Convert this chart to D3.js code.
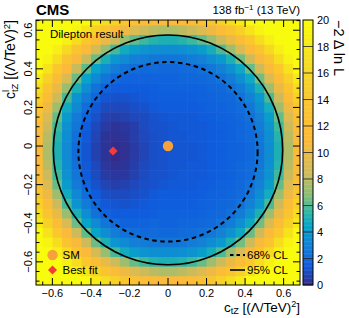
<!DOCTYPE html>
<html>
<head>
<meta charset="utf-8">
<script src="https://cdn.jsdelivr.net/npm/d3@7"></script>
<style>
body { margin: 0; background: #fff; }
text { font-family: "Liberation Sans", Arial, Helvetica, sans-serif; fill: #000; }
</style>
</head>
<body>
<svg id="chart" width="349" height="318"></svg>
<script>
// cell centres of the scan grid
const xCenters = [-0.675,-0.625,-0.575,-0.525,-0.475,-0.425,-0.375,-0.325,-0.275,-0.225,-0.175,-0.125,-0.075,-0.025,
                  0.025,0.075,0.125,0.175,0.225,0.275,0.325,0.375,0.425,0.475,0.525,0.575,0.625,0.675];
const yCenters = [0.65,0.6,0.55,0.5,0.45,0.4,0.35,0.3,0.25,0.2,0.15,0.1,0.05,0,
                  -0.05,-0.1,-0.15,-0.2,-0.25,-0.3,-0.35,-0.4,-0.45,-0.5,-0.55,-0.6,-0.65,-0.7];
const cellStep = 0.05;

// -2 delta ln L, rows from top (y = 0.65) to bottom (y = -0.7)
const nll = [
[25.6,24.6,23.5,22.2,21.0,19.9,18.3,16.9,15.3,13.9,12.8,12.0,11.4,11.2,11.2,11.4,12.0,12.8,13.9,15.3,16.9,18.3,19.9,21.0,22.2,23.5,24.6,25.6],
[24.6,23.4,22.0,20.6,19.1,17.4,15.3,13.4,11.7,10.3,9.1,8.4,8.0,7.7,7.7,8.0,8.4,9.1,10.3,11.7,13.4,15.3,17.4,19.1,20.6,22.0,23.4,24.6],
[23.5,22.0,20.5,18.7,16.7,14.2,12.0,10.0,8.4,7.3,6.3,5.7,5.3,5.1,5.1,5.3,5.7,6.3,7.3,8.4,10.0,12.0,14.2,16.7,18.7,20.5,22.0,23.5],
[22.2,20.6,18.7,16.4,13.6,11.2,8.8,7.2,5.8,4.8,4.2,3.8,3.6,3.5,3.5,3.6,3.8,4.2,4.9,5.9,7.3,8.9,11.2,13.6,16.4,18.7,20.6,22.2],
[21.0,19.1,16.7,13.6,10.9,8.3,6.4,5.0,3.9,3.4,2.9,2.8,2.6,2.5,2.5,2.6,2.8,3.0,3.5,4.0,5.1,6.5,8.4,10.9,13.6,16.7,19.1,21.0],
[19.9,17.4,14.2,11.2,8.3,6.2,4.5,3.5,2.8,2.4,2.2,2.0,2.1,2.0,2.0,2.1,2.1,2.3,2.6,3.0,3.7,4.7,6.3,8.4,11.2,14.2,17.4,19.9],
[18.3,15.3,12.0,8.9,6.4,4.5,3.3,2.5,2.0,1.8,1.8,1.8,1.8,1.8,1.8,1.9,1.9,2.0,2.1,2.4,2.8,3.6,4.7,6.5,8.9,12.0,15.3,18.3],
[16.9,13.4,10.0,7.2,5.0,3.5,2.4,1.8,1.5,1.5,1.5,1.5,1.6,1.7,1.7,1.7,1.7,1.8,1.9,2.0,2.3,2.8,3.7,5.1,7.3,10.0,13.4,16.9],
[15.3,11.7,8.4,5.8,3.8,2.7,1.9,1.3,1.2,1.2,1.3,1.4,1.5,1.6,1.6,1.6,1.6,1.7,1.8,1.9,2.0,2.4,3.0,4.0,5.9,8.4,11.7,15.3],
[13.9,10.3,7.3,4.8,3.3,2.2,1.4,1.0,0.9,0.9,1.1,1.2,1.4,1.5,1.5,1.5,1.5,1.6,1.7,1.8,1.9,2.1,2.6,3.5,4.9,7.3,10.3,13.9],
[12.8,9.1,6.3,4.1,2.7,1.8,1.2,0.7,0.6,0.7,0.9,1.0,1.2,1.3,1.4,1.4,1.4,1.5,1.6,1.7,1.8,2.0,2.3,3.0,4.2,6.3,9.1,12.8],
[12.0,8.4,5.7,3.7,2.5,1.5,0.9,0.5,0.3,0.4,0.6,1.0,1.2,1.2,1.3,1.4,1.4,1.4,1.5,1.6,1.7,1.9,2.1,2.8,3.8,5.7,8.4,12.0],
[11.4,8.0,5.3,3.5,2.3,1.4,0.8,0.3,0.2,0.3,0.6,0.9,1.1,1.2,1.3,1.3,1.4,1.4,1.5,1.6,1.7,1.9,2.1,2.6,3.6,5.3,8.0,11.4],
[11.2,7.7,5.1,3.4,2.1,1.3,0.7,0.3,0.1,0.2,0.5,0.8,1.1,1.2,1.3,1.3,1.3,1.4,1.5,1.6,1.7,1.8,2.0,2.5,3.5,5.1,7.7,11.2],
[11.2,7.7,5.1,3.4,2.1,1.3,0.7,0.3,0.0,0.2,0.5,0.8,1.1,1.2,1.3,1.3,1.3,1.4,1.5,1.6,1.7,1.8,2.0,2.5,3.5,5.1,7.7,11.2],
[11.4,8.0,5.3,3.5,2.3,1.4,0.9,0.4,0.2,0.3,0.6,0.9,1.1,1.2,1.3,1.3,1.4,1.4,1.5,1.6,1.7,1.9,2.1,2.6,3.6,5.3,8.0,11.4],
[12.0,8.4,5.7,3.7,2.5,1.5,1.0,0.5,0.4,0.4,0.7,1.0,1.2,1.2,1.3,1.4,1.4,1.4,1.5,1.6,1.7,1.9,2.1,2.8,3.8,5.7,8.4,12.0],
[12.8,9.1,6.3,4.1,2.7,1.8,1.2,0.8,0.6,0.7,0.9,1.1,1.2,1.3,1.4,1.4,1.4,1.5,1.6,1.7,1.8,2.0,2.3,3.0,4.2,6.3,9.1,12.8],
[13.9,10.3,7.3,4.8,3.3,2.2,1.5,1.1,1.0,1.0,1.1,1.2,1.4,1.5,1.5,1.5,1.5,1.6,1.7,1.8,1.9,2.1,2.6,3.5,4.9,7.3,10.3,13.9],
[15.3,11.7,8.4,5.8,3.8,2.7,1.9,1.4,1.3,1.2,1.3,1.4,1.5,1.6,1.6,1.6,1.6,1.7,1.8,1.9,2.0,2.4,3.0,4.0,5.9,8.4,11.7,15.3],
[16.9,13.4,10.0,7.2,5.0,3.5,2.4,1.8,1.5,1.5,1.5,1.5,1.6,1.7,1.7,1.7,1.7,1.8,1.9,2.0,2.3,2.8,3.7,5.1,7.3,10.0,13.4,16.9],
[18.3,15.3,12.0,8.9,6.4,4.5,3.4,2.5,2.1,1.8,1.8,1.8,1.9,1.8,1.8,1.9,1.9,2.0,2.1,2.4,2.8,3.6,4.7,6.5,8.9,12.0,15.3,18.3],
[19.9,17.4,14.2,11.2,8.4,6.2,4.5,3.5,2.8,2.4,2.2,2.0,2.1,2.0,2.0,2.1,2.1,2.3,2.6,3.0,3.7,4.7,6.3,8.4,11.2,14.2,17.4,19.9],
[21.0,19.1,16.7,13.6,10.9,8.4,6.4,5.0,3.9,3.4,2.9,2.8,2.6,2.5,2.5,2.6,2.8,3.0,3.5,4.0,5.1,6.5,8.4,10.9,13.6,16.7,19.1,21.0],
[22.2,20.6,18.7,16.4,13.6,11.2,8.8,7.2,5.8,4.8,4.2,3.8,3.6,3.5,3.5,3.6,3.8,4.2,4.9,5.9,7.3,8.9,11.2,13.6,16.4,18.7,20.6,22.2],
[23.5,22.0,20.5,18.7,16.7,14.2,12.0,10.0,8.4,7.3,6.3,5.7,5.3,5.1,5.1,5.3,5.7,6.3,7.3,8.4,10.0,12.0,14.2,16.7,18.7,20.5,22.0,23.5],
[24.6,23.4,22.0,20.6,19.1,17.4,15.3,13.4,11.7,10.3,9.1,8.4,8.0,7.7,7.7,8.0,8.4,9.1,10.3,11.7,13.4,15.3,17.4,19.1,20.6,22.0,23.4,24.6],
[25.6,24.6,23.5,22.2,21.0,19.9,18.3,16.9,15.3,13.9,12.8,12.0,11.4,11.2,11.2,11.4,12.0,12.8,13.9,15.3,16.9,18.3,19.9,21.0,22.2,23.5,24.6,25.6]
];

// confidence contours (centre and radius in coefficient units)
const clNames = ['68% CL', '95% CL'];
const clCenterX = [0, 0];
const clCenterY = [-0.03, -0.02];
const clRadius = [0.465, 0.595];

// points
const smPoint = [0, 0];
const bestFit = [-0.285, -0.026];

const xTicks = [-0.6, -0.4, -0.2, 0, 0.2, 0.4, 0.6];
const yTicks = [-0.6, -0.4, -0.2, 0, 0.2, 0.4, 0.6];
const zTicks = [0, 2, 4, 6, 8, 10, 12, 14, 16, 18, 20];

// palette stops (ROOT bird-like)
const colorStops = [0, 1.5, 3, 4.5, 5.5, 6.8, 8.5, 11, 14, 17, 20];
const colorHex = ['#352a87', '#0f5cdd', '#1481d6', '#06a4ca', '#2eb7a4', '#87bf77', '#d1bb59', '#fbb93a', '#fac62e', '#f5df1e', '#f9fb0e'];

const svg = d3.select('#chart');
const plotL = 36, plotR = 300, plotT = 20, plotB = 285;

let x = d3.scaleLinear().domain([-0.685, 0.685]).range([plotL, plotR]);
let y = d3.scaleLinear().domain([-0.72, 0.653]).range([plotB, plotT]);
let z = d3.scaleLinear().domain([0, 20]).range([plotB, plotT]);
let color = d3.scaleLinear().domain(colorStops).range(colorHex).clamp(true);

svg.append('clipPath').attr('id', 'plotclip')
   .append('rect').attr('x', plotL).attr('y', plotT).attr('width', plotR - plotL).attr('height', plotB - plotT);

let cells = [];
nll.forEach((row, i) => {
  row.forEach((v, j) => {
    cells.push({ x: xCenters[j], y: yCenters[i], v: v });
  });
});

let heat = svg.append('g').attr('clip-path', 'url(#plotclip)');
heat.selectAll('rect')
    .data(cells)
    .enter()
    .append('rect')
    .attr('x', d => x(d.x - cellStep / 2))
    .attr('y', d => y(d.y + cellStep / 2))
    .attr('width', x(cellStep) - x(0) + 0.6)
    .attr('height', y(0) - y(cellStep) + 0.6)
    .attr('fill', d => color(d.v));

// contours
heat.selectAll('ellipse')
    .data(clNames)
    .enter()
    .append('ellipse')
    .attr('cx', (d, i) => x(clCenterX[i]))
    .attr('cy', (d, i) => y(clCenterY[i]))
    .attr('rx', (d, i) => x(clRadius[i]) - x(0))
    .attr('ry', (d, i) => y(0) - y(clRadius[i]))
    .attr('fill', 'none')
    .attr('stroke', '#000')
    .attr('stroke-width', (d, i) => i === 0 ? 2 : 1.6)
    .attr('stroke-dasharray', (d, i) => i === 0 ? '4.5,3.5' : null);

// SM and best fit
svg.append('circle')
   .attr('cx', x(smPoint[0])).attr('cy', y(smPoint[1])).attr('r', 5.2)
   .attr('fill', '#f7a13c');
svg.append('path')
   .attr('d', d3.symbol().type(d3.symbolSquare).size(40)())
   .attr('transform', 'translate(' + x(bestFit[0]) + ',' + y(bestFit[1]) + ') rotate(45)')
   .attr('fill', '#f43b3b');

// frame and ticks
svg.append('rect')
   .attr('x', plotL).attr('y', plotT).attr('width', plotR - plotL).attr('height', plotB - plotT)
   .attr('fill', 'none').attr('stroke', '#000').attr('stroke-width', 1);

let xMinor = x.ticks(28).filter(v => !xTicks.some(t => Math.abs(t - v) < 1e-6));
let yMinor = y.ticks(28).filter(v => !yTicks.some(t => Math.abs(t - v) < 1e-6));

let tickG = svg.append('g').attr('stroke', '#000').attr('stroke-width', 1);
xTicks.forEach(v => {
  tickG.append('line').attr('x1', x(v)).attr('x2', x(v)).attr('y1', plotB).attr('y2', plotB - 7);
  tickG.append('line').attr('x1', x(v)).attr('x2', x(v)).attr('y1', plotT).attr('y2', plotT + 7);
});
xMinor.forEach(v => {
  tickG.append('line').attr('x1', x(v)).attr('x2', x(v)).attr('y1', plotB).attr('y2', plotB - 3.5);
  tickG.append('line').attr('x1', x(v)).attr('x2', x(v)).attr('y1', plotT).attr('y2', plotT + 3.5);
});
yTicks.forEach(v => {
  tickG.append('line').attr('y1', y(v)).attr('y2', y(v)).attr('x1', plotL).attr('x2', plotL + 7);
  tickG.append('line').attr('y1', y(v)).attr('y2', y(v)).attr('x1', plotR).attr('x2', plotR - 7);
});
yMinor.forEach(v => {
  tickG.append('line').attr('y1', y(v)).attr('y2', y(v)).attr('x1', plotL).attr('x2', plotL + 3.5);
  tickG.append('line').attr('y1', y(v)).attr('y2', y(v)).attr('x1', plotR).attr('x2', plotR - 3.5);
});

let fmt = d3.format('');
svg.selectAll('.xlab')
   .data(xTicks).enter().append('text')
   .attr('x', d => x(d)).attr('y', 297)
   .attr('text-anchor', 'middle').attr('font-size', 11)
   .text(d => fmt(d));
svg.selectAll('.ylab')
   .data(yTicks).enter().append('text')
   .attr('transform', d => 'translate(32,' + y(d) + ') rotate(-90)')
   .attr('text-anchor', 'middle').attr('font-size', 11)
   .text(d => fmt(d));

// axis titles
let xt = svg.append('text').attr('x', plotR).attr('y', 311.5).attr('text-anchor', 'end').attr('font-size', 13.5);
xt.append('tspan').text('c');
xt.append('tspan').attr('font-size', 9).attr('dy', 2.5).text('tZ');
xt.append('tspan').attr('dy', -2.5).text(' [(\u039B/TeV)');
xt.append('tspan').attr('font-size', 9).attr('dy', -5).text('2');
xt.append('tspan').attr('dy', 5).text(']');

let yt = svg.append('text').attr('transform', 'translate(15,' + plotT + ') rotate(-90)')
            .attr('text-anchor', 'end').attr('font-size', 14);
yt.append('tspan').text('c');
yt.append('tspan').attr('font-size', 9.5).attr('dy', -6).text('l');
yt.append('tspan').attr('font-size', 9.5).attr('dx', -2.2).attr('dy', 9).text('tZ');
yt.append('tspan').attr('dy', -3).text(' [(\u039B/TeV)');
yt.append('tspan').attr('font-size', 9.5).attr('dy', -5.5).text('2');
yt.append('tspan').attr('dy', 5.5).text(']');

// colour bar
const barX = 303, barW = 10;
let barVals = d3.range(0, 20, 0.1);
svg.append('g').selectAll('rect')
   .data(barVals).enter().append('rect')
   .attr('x', barX).attr('width', barW)
   .attr('y', d => z(d + 0.1)).attr('height', z(0) - z(0.1) + 0.4)
   .attr('fill', d => color(d + 0.05));
svg.append('rect').attr('x', barX).attr('y', plotT).attr('width', barW).attr('height', plotB - plotT)
   .attr('fill', 'none').attr('stroke', '#000').attr('stroke-width', 1);
svg.append('g').selectAll('line')
   .data(zTicks.slice(1, -1)).enter().append('line')
   .attr('x1', barX).attr('x2', barX + barW)
   .attr('y1', d => z(d)).attr('y2', d => z(d))
   .attr('stroke', '#222').attr('stroke-width', 0.8);
svg.selectAll('.zlab')
   .data(zTicks).enter().append('text')
   .attr('x', 317).attr('y', d => z(d) + 4)
   .attr('font-size', 11)
   .text(d => d);
svg.append('text')
   .attr('transform', 'translate(334,' + plotT + ') rotate(90)')
   .attr('font-size', 14.5)
   .text('\u22122 \u0394 ln L');

// header
svg.append('text').attr('x', plotL).attr('y', 15).attr('font-size', 15).attr('font-weight', 'bold').text('CMS');
let lumi = svg.append('text').attr('x', plotR).attr('y', 14).attr('text-anchor', 'end').attr('font-size', 11.5);
lumi.append('tspan').text('138 fb');
lumi.append('tspan').attr('font-size', 8).attr('dy', -4.5).text('\u22121');
lumi.append('tspan').attr('dy', 4.5).text(' (13 TeV)');

svg.append('text').attr('x', 50).attr('y', 38).attr('font-size', 11.5).text('Dilepton result');

// legends
svg.append('circle').attr('cx', 52.5).attr('cy', 255).attr('r', 5.2).attr('fill', '#f7a13c');
svg.append('text').attr('x', 62.5).attr('y', 259).attr('font-size', 11.5).text('SM');
svg.append('path')
   .attr('d', d3.symbol().type(d3.symbolSquare).size(40)())
   .attr('transform', 'translate(52.5,270) rotate(45)')
   .attr('fill', '#f43b3b');
svg.append('text').attr('x', 62.5).attr('y', 274).attr('font-size', 11.5).text('Best fit');

let legY = [255, 270];
clNames.forEach((name, i) => {
  svg.append('line').attr('x1', 230).attr('x2', 245).attr('y1', legY[i]).attr('y2', legY[i])
     .attr('stroke', '#000').attr('stroke-width', i === 0 ? 2 : 1.6)
     .attr('stroke-dasharray', i === 0 ? '3.5,3' : null);
  svg.append('text').attr('x', 247).attr('y', legY[i] + 4).attr('font-size', 11.5).text(name);
});
</script>
</body>
</html>
